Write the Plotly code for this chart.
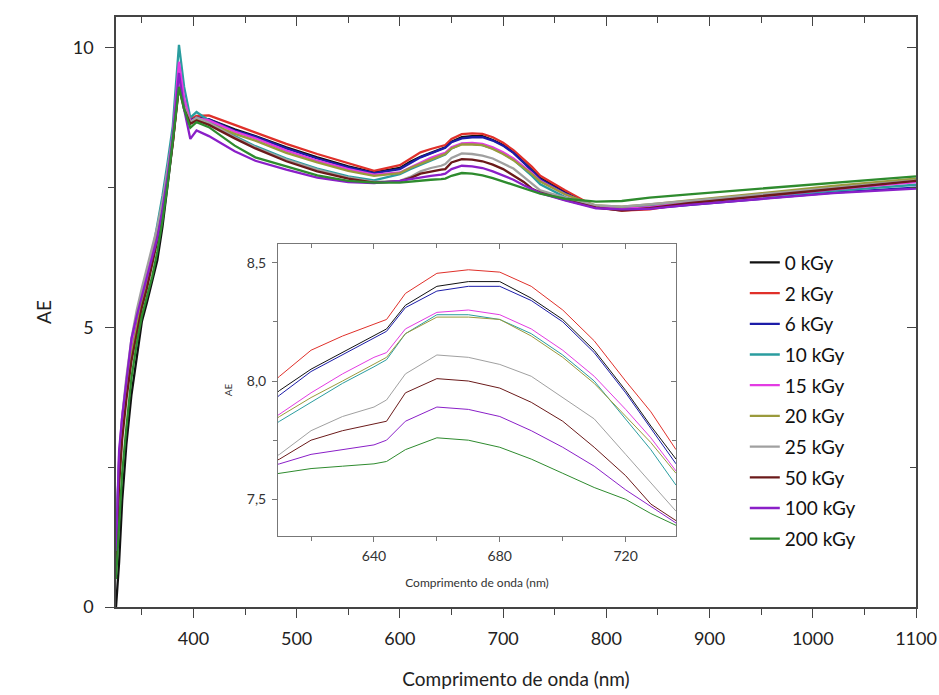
import plotly.graph_objects as go

# ---------------- data ----------------
wavelength = [325, 328, 331, 335, 340, 345, 350, 355, 360, 365, 370, 375, 380,
              386, 391, 397, 403,
              415, 440, 460, 490, 520, 550, 575, 600,
              610, 620, 630, 640, 644, 650, 660, 670, 680, 690, 700, 710, 720, 728, 736,
              760, 790, 815, 842, 880, 950, 1020, 1100]

ae_0kGy = [0.0, 0.8, 1.9, 2.9, 3.8, 4.5, 5.1, 5.45, 5.8, 6.2, 6.8, 7.5, 8.3,
           9.4, 8.95, 8.68, 8.75,
           8.72, 8.54, 8.42, 8.22, 8.04, 7.88, 7.77, 7.85,
           7.96, 8.05, 8.12, 8.19, 8.22, 8.32, 8.40, 8.42, 8.42, 8.35, 8.26, 8.13, 7.96, 7.81, 7.67,
           7.42, 7.15, 7.11, 7.14, 7.22, 7.36, 7.50, 7.64]
ae_2kGy = [0.8, 2.4, 3.2, 3.9, 4.6, 5.1, 5.5, 5.85, 6.25, 6.7, 7.2, 7.75, 8.4,
           9.5, 9.05, 8.72, 8.78,
           8.79, 8.62, 8.48, 8.28, 8.10, 7.93, 7.80, 7.90,
           8.02, 8.13, 8.19, 8.24, 8.26, 8.37, 8.455, 8.47, 8.46, 8.40, 8.30, 8.17, 8.00, 7.87, 7.71,
           7.45, 7.15, 7.09, 7.11, 7.22, 7.35, 7.48, 7.61]
ae_6kGy = [0.9, 2.5, 3.3, 3.9, 4.6, 5.1, 5.5, 5.8, 6.2, 6.65, 7.15, 7.7, 8.35,
           9.45, 9.0, 8.70, 8.75,
           8.72, 8.52, 8.41, 8.20, 8.02, 7.86, 7.76, 7.83,
           7.94, 8.04, 8.11, 8.18, 8.21, 8.31, 8.38, 8.40, 8.40, 8.34, 8.25, 8.12, 7.95, 7.80, 7.65,
           7.40, 7.14, 7.11, 7.13, 7.19, 7.30, 7.41, 7.50]
ae_10kGy = [1.2, 2.6, 3.3, 3.9, 4.5, 5.0, 5.45, 5.8, 6.3, 6.8, 7.35, 7.95, 8.6,
            10.05, 9.3, 8.75, 8.85,
            8.70, 8.42, 8.24, 8.02, 7.84, 7.70, 7.63, 7.74,
            7.83, 7.91, 7.99, 8.06, 8.09, 8.20, 8.28, 8.28, 8.26, 8.20, 8.11, 8.00, 7.84, 7.71, 7.56,
            7.33, 7.15, 7.14, 7.17, 7.23, 7.33, 7.44, 7.55]
ae_15kGy = [1.0, 2.7, 3.4, 4.0, 4.7, 5.2, 5.6, 5.95, 6.3, 6.7, 7.2, 7.8, 8.45,
            9.75, 9.1, 8.68, 8.74,
            8.70, 8.50, 8.38, 8.16, 7.98, 7.83, 7.73, 7.77,
            7.86, 7.95, 8.03, 8.10, 8.12, 8.22, 8.29, 8.30, 8.28, 8.22, 8.13, 8.02, 7.88, 7.76, 7.62,
            7.38, 7.15, 7.12, 7.15, 7.23, 7.34, 7.47, 7.60]
ae_20kGy = [0.9, 2.3, 3.1, 3.8, 4.5, 5.0, 5.45, 5.8, 6.2, 6.65, 7.15, 7.7, 8.3,
            9.35, 8.95, 8.66, 8.72,
            8.65, 8.46, 8.34, 8.12, 7.95, 7.80, 7.71, 7.76,
            7.85, 7.93, 8.00, 8.07, 8.10, 8.20, 8.27, 8.27, 8.26, 8.19, 8.10, 7.99, 7.85, 7.74, 7.61,
            7.38, 7.18, 7.16, 7.20, 7.27, 7.40, 7.53, 7.66]
ae_25kGy = [1.1, 2.6, 3.4, 4.1, 4.8, 5.3, 5.7, 6.05, 6.4, 6.8, 7.25, 7.8, 8.4,
            9.45, 8.95, 8.66, 8.75,
            8.66, 8.40, 8.22, 8.00, 7.82, 7.68, 7.60, 7.62,
            7.69, 7.79, 7.85, 7.89, 7.92, 8.03, 8.11, 8.10, 8.07, 8.02, 7.93, 7.84, 7.69, 7.57, 7.45,
            7.32, 7.18, 7.16, 7.20, 7.26, 7.38, 7.50, 7.63]
ae_50kGy = [0.8, 2.2, 3.0, 3.7, 4.4, 4.9, 5.35, 5.7, 6.1, 6.55, 7.05, 7.6, 8.3,
            9.3, 8.9, 8.64, 8.70,
            8.62, 8.38, 8.20, 7.97, 7.79, 7.66, 7.59, 7.61,
            7.67, 7.75, 7.79, 7.82, 7.83, 7.95, 8.01, 8.00, 7.97, 7.91, 7.83, 7.72, 7.60, 7.48, 7.41,
            7.28, 7.14, 7.09, 7.13, 7.22, 7.35, 7.48, 7.62]
ae_100kGy = [1.0, 2.8, 3.4, 4.0, 4.8, 5.2, 5.55, 5.85, 6.2, 6.6, 7.1, 7.7, 8.4,
             9.55, 8.9, 8.37, 8.52,
             8.42, 8.15, 7.98, 7.82, 7.68, 7.60, 7.58, 7.62,
             7.65, 7.69, 7.71, 7.73, 7.75, 7.83, 7.89, 7.88, 7.85, 7.79, 7.72, 7.64, 7.54, 7.47, 7.40,
             7.27, 7.13, 7.11, 7.12, 7.19, 7.29, 7.40, 7.48]
ae_200kGy = [0.5, 1.5, 2.4, 3.2, 4.1, 4.7, 5.2, 5.55, 5.9, 6.35, 6.9, 7.55, 8.3,
             9.3, 8.9, 8.57, 8.67,
             8.58, 8.25, 8.04, 7.88, 7.72, 7.62, 7.59, 7.59,
             7.61, 7.63, 7.64, 7.65, 7.66, 7.71, 7.76, 7.75, 7.72, 7.67, 7.61, 7.55, 7.50, 7.44, 7.39,
             7.30, 7.25, 7.26, 7.32, 7.38, 7.48, 7.59, 7.70]

doses = ["0 kGy", "2 kGy", "6 kGy", "10 kGy", "15 kGy", "20 kGy", "25 kGy", "50 kGy", "100 kGy", "200 kGy"]
series = [ae_0kGy, ae_2kGy, ae_6kGy, ae_10kGy, ae_15kGy, ae_20kGy, ae_25kGy, ae_50kGy, ae_100kGy, ae_200kGy]
colors = ["#111111", "#e0302a", "#1c1ca8", "#2a9d9f", "#e33be3", "#9a9a3c",
          "#a0a0a0", "#6b1a1a", "#8a1fc8", "#2e8b2e"]

FONT = "Lato"

fig = go.Figure()
for name, ys, c in zip(doses, series, colors):
    fig.add_trace(go.Scatter(x=wavelength, y=ys, mode="lines", name=name,
                             line=dict(color=c, width=2.3), legendgroup=name,
                             xaxis="x", yaxis="y"))
for name, ys, c in zip(doses, series, colors):
    fig.add_trace(go.Scatter(x=wavelength, y=ys, mode="lines", name=name,
                             line=dict(color=c, width=1), legendgroup=name,
                             showlegend=False, xaxis="x2", yaxis="y2"))
# invisible carriers so that the mirrored (top/right) frame axes are rendered
fig.add_trace(go.Scatter(x=wavelength, y=ae_0kGy, mode="lines", line=dict(width=0, color="rgba(0,0,0,0)"),
                         showlegend=False, hoverinfo="skip", xaxis="x3", yaxis="y3"))
fig.add_trace(go.Scatter(x=wavelength, y=ae_0kGy, mode="lines", line=dict(width=0, color="rgba(0,0,0,0)"),
                         showlegend=False, hoverinfo="skip", xaxis="x4", yaxis="y4"))

axis_col = "#444444"
inset_col = "#777777"
XR = [325, 1100]
YR = [0, 10.55]
IXR = [609.5, 736]
IYR = [7.345, 8.579]

fig.update_layout(
    width=939, height=695,
    margin=dict(l=116, r=23, t=17, b=88, autoexpand=False),
    plot_bgcolor="white", paper_bgcolor="white",
    separators=",.",
    font=dict(family=FONT, color="#222222"),
    showlegend=True,
    legend=dict(x=0.786, y=0.616, xanchor="left", yanchor="top",
                font=dict(family=FONT, size=19, color="#111111"),
                bgcolor="rgba(0,0,0,0)", tracegroupgap=3),
    xaxis=dict(range=XR, domain=[0, 1], anchor="y", showgrid=False, zeroline=False, automargin=False,
               showline=True, linecolor=axis_col, linewidth=1.5,
               ticks="outside", ticklen=9, tickwidth=1.2, tickcolor=axis_col,
               tick0=400, dtick=100,
               minor=dict(ticks="outside", ticklen=6, dtick=50, tick0=350, tickcolor=axis_col),
               tickfont=dict(size=18, family=FONT, color="#222222"), ticklabelstandoff=6,
               title=dict(text="Comprimento de onda (nm)", font=dict(size=19, family=FONT, color="#222222"),
                          standoff=24)),
    yaxis=dict(range=YR, domain=[0, 1], anchor="x", showgrid=False, zeroline=False, automargin=False,
               showline=True, linecolor=axis_col, linewidth=1.5,
               ticks="outside", ticklen=9, tickwidth=1.2, tickcolor=axis_col,
               tick0=0, dtick=5,
               minor=dict(ticks="outside", ticklen=6, dtick=2.5, tickcolor=axis_col),
               tickfont=dict(size=18, family=FONT, color="#222222"), ticklabelstandoff=8,
               title=dict(text="AE", font=dict(size=19, family=FONT, color="#222222"), standoff=16)),
    xaxis3=dict(range=XR, overlaying="x", side="top", anchor="y3", showgrid=False, zeroline=False,
                automargin=False,
                showline=True, linecolor=axis_col, linewidth=1.5,
                ticks="inside", ticklen=9, tickwidth=1.2, tickcolor=axis_col,
                tick0=400, dtick=100, showticklabels=False,
                minor=dict(ticks="inside", ticklen=6, dtick=50, tick0=350, tickcolor=axis_col)),
    yaxis3=dict(range=YR, overlaying="y", side="right", anchor="x3", showgrid=False, zeroline=False,
                automargin=False,
                showline=True, linecolor=axis_col, linewidth=1.5,
                ticks="inside", ticklen=9, tickwidth=1.2, tickcolor=axis_col,
                tick0=0, dtick=5, showticklabels=False,
                minor=dict(ticks="inside", ticklen=6, dtick=2.5, tickcolor=axis_col)),
    # inset
    xaxis2=dict(range=IXR, domain=[0.2025, 0.70], anchor="y2", showgrid=False, zeroline=False,
                automargin=False,
                showline=True, linecolor=inset_col, linewidth=1,
                ticks="outside", ticklen=5, tickwidth=1, tickcolor=inset_col,
                tick0=640, dtick=40,
                minor=dict(ticks="outside", ticklen=4, dtick=20, tick0=620, tickcolor=inset_col),
                tickfont=dict(size=14, family=FONT, color="#333333"), ticklabelstandoff=2,
                title=dict(text="Comprimento de onda (nm)", font=dict(size=12, family=FONT, color="#333333"),
                           standoff=15)),
    yaxis2=dict(range=IYR, domain=[0.1203, 0.6153], anchor="x2", showgrid=False, zeroline=False,
                automargin=False,
                showline=True, linecolor=inset_col, linewidth=1,
                ticks="outside", ticklen=5, tickwidth=1, tickcolor=inset_col,
                tick0=7.5, dtick=0.5, tickformat=".1f",
                minor=dict(ticks="outside", ticklen=4, dtick=0.25, tickcolor=inset_col),
                tickfont=dict(size=14, family=FONT, color="#333333"), ticklabelstandoff=3,
                title=dict(text="AE", font=dict(size=10, family=FONT, color="#333333"), standoff=12)),
    xaxis4=dict(range=IXR, overlaying="x2", side="top", anchor="y4", showgrid=False, zeroline=False,
                automargin=False,
                showline=True, linecolor=inset_col, linewidth=1,
                ticks="inside", ticklen=5, tickwidth=1, tickcolor=inset_col,
                tick0=640, dtick=40, showticklabels=False,
                minor=dict(ticks="inside", ticklen=4, dtick=20, tick0=620, tickcolor=inset_col)),
    yaxis4=dict(range=IYR, overlaying="y2", side="right", anchor="x4", showgrid=False, zeroline=False,
                automargin=False,
                showline=True, linecolor=inset_col, linewidth=1,
                ticks="inside", ticklen=5, tickwidth=1, tickcolor=inset_col,
                tick0=7.5, dtick=0.5, showticklabels=False,
                minor=dict(ticks="inside", ticklen=4, dtick=0.25, tickcolor=inset_col)),
)

fig.write_html("out.html")
